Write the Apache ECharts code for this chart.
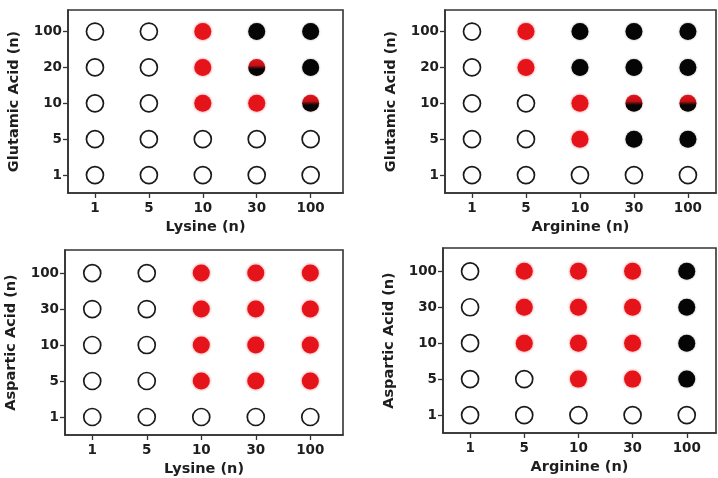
<!DOCTYPE html>
<html><head><meta charset="utf-8">
<script src="https://cdn.jsdelivr.net/npm/echarts@6/dist/echarts.min.js"></script>
<style>html,body{margin:0;padding:0;background:#fff}#c{width:718px;height:478px}</style>
</head><body><div id="c"></div>
<script>
// categories
const lysineCats = ['1','5','10','30','100'];
const arginineCats = ['1','5','10','30','100'];
const glutamicCats = ['1','5','10','20','100'];
const asparticCats = ['1','5','10','30','100'];
// states: 0 = open, 1 = red, 2 = black, 3 = red/black split
// rows: y category index (bottom to top), columns: x category index
const gluLys = [
  [0,0,0,0,0],
  [0,0,0,0,0],
  [0,0,1,1,3],
  [0,0,1,3,2],
  [0,0,1,2,2]
];
const gluArg = [
  [0,0,0,0,0],
  [0,0,1,2,2],
  [0,0,1,3,3],
  [0,1,2,2,2],
  [0,1,2,2,2]
];
const aspLys = [
  [0,0,0,0,0],
  [0,0,1,1,1],
  [0,0,1,1,1],
  [0,0,1,1,1],
  [0,0,1,1,1]
];
const aspArg = [
  [0,0,0,0,0],
  [0,0,1,1,2],
  [0,1,1,1,2],
  [0,1,1,1,2],
  [0,1,1,1,2]
];

const RED = '#e5141b', BLACK = '#050505';
function styleFor(s){
  if(s===0) return {color:'#fff', borderColor:'#1a1a1a', borderWidth:1.7, opacity:1};
  if(s===1) return {color:RED, opacity:1, shadowBlur:3, shadowColor:'rgba(229,20,27,0.6)'};
  if(s===2) return {color:BLACK, opacity:1, shadowBlur:2, shadowColor:'rgba(0,0,0,0.4)'};
  return {color:new echarts.graphic.LinearGradient(0,0,0,1,[
    {offset:0,color:RED},{offset:0.38,color:'#c41016'},{offset:0.6,color:BLACK},{offset:1,color:BLACK}]),
    opacity:1, shadowBlur:2, shadowColor:'rgba(120,0,0,0.4)'};
}
function buildData(m){
  const out=[];
  m.forEach((row,yi)=>row.forEach((s,xi)=>out.push({value:[xi,yi],itemStyle:styleFor(s)})));
  return out;
}
const panels = [
  {grid:{left:68,top:10,width:275,height:183}, xc:lysineCats, yc:glutamicCats, xn:'Lysine (n)', yn:'Glutamic Acid (n)', m:gluLys, xmax:4.6, ymax:4.6},
  {grid:{left:445,top:10,width:271,height:183}, xc:arginineCats, yc:glutamicCats, xn:'Arginine (n)', yn:'Glutamic Acid (n)', m:gluArg, xmax:4.52, ymax:4.6},
  {grid:{left:65,top:250,width:278,height:185}, xc:lysineCats, yc:asparticCats, xn:'Lysine (n)', yn:'Aspartic Acid (n)', m:aspLys, xmax:4.6, ymax:4.64},
  {grid:{left:443,top:248,width:273,height:185}, xc:arginineCats, yc:asparticCats, xn:'Arginine (n)', yn:'Aspartic Acid (n)', m:aspArg, xmax:4.54, ymax:4.65}
];
const FONT = 'DejaVu Sans, Verdana, sans-serif';
const lab = {color:'#1e1e1e', fontFamily:FONT, fontWeight:'bold', fontSize:13.5};
const nameStyle = {color:'#1e1e1e', fontFamily:FONT, fontWeight:'bold', fontSize:14.5};
const axLine = {show:true, onZero:false, lineStyle:{color:'#333', width:1.6}};
const tick = {show:true, length:5, inside:false, customValues:[0,1,2,3,4], lineStyle:{color:'#333',width:1.3}};
const option = {
  animation:false,
  grid: panels.map(p=>Object.assign({show:true, borderColor:'#333', borderWidth:1.6, backgroundColor:'transparent'}, p.grid)),
  xAxis: panels.map((p,i)=>({
    type:'value', gridIndex:i, min:-0.5, max:p.xmax,
    splitLine:{show:false}, axisLine:axLine, axisTick:tick,
    axisLabel:Object.assign({customValues:[0,1,2,3,4], margin:8, formatter:v=>p.xc[Math.round(v)]}, lab),
    name:p.xn, nameLocation:'middle', nameGap:27, nameTextStyle:nameStyle
  })),
  yAxis: panels.map((p,i)=>({
    type:'value', gridIndex:i, min:-0.5, max:p.ymax,
    splitLine:{show:false}, axisLine:axLine, axisTick:tick,
    axisLabel:Object.assign({customValues:[0,1,2,3,4], margin:6, formatter:v=>p.yc[Math.round(v)]}, lab),
    name:p.yn, nameLocation:'middle', nameGap:46, nameTextStyle:nameStyle
  })),
  series: panels.map((p,i)=>({
    type:'scatter', xAxisIndex:i, yAxisIndex:i, symbol:'circle', symbolSize:17,
    itemStyle:{opacity:1},
    data:buildData(p.m)
  }))
};
echarts.init(document.getElementById('c'),null,{renderer:'canvas'}).setOption(option);
</script></body></html>
